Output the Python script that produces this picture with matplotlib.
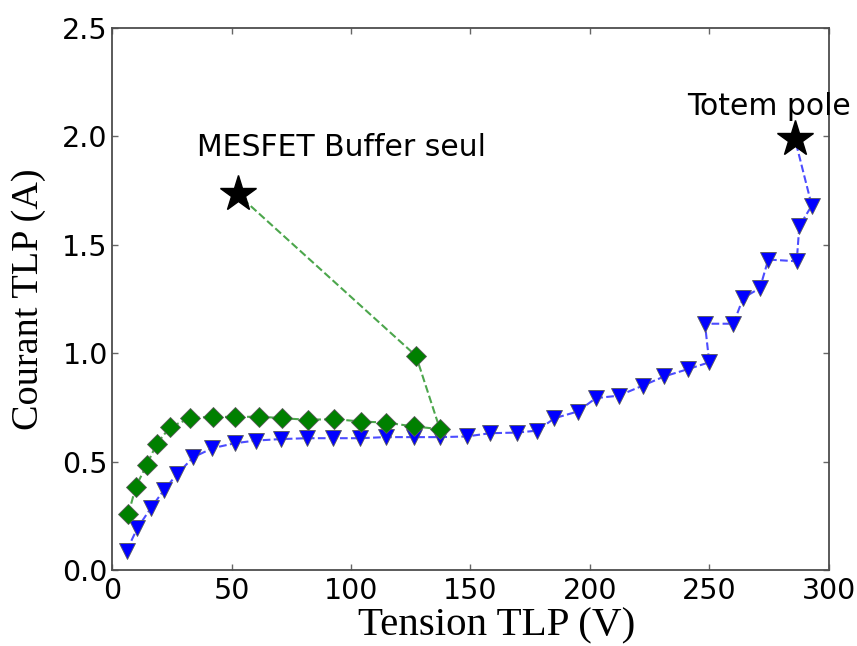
import matplotlib
matplotlib.use("Agg")
import matplotlib.pyplot as plt

# MESFET buffer alone (green diamonds), last point = failure (star)
mesfet_v = [6.8, 10.0, 14.5, 18.7, 24.3, 32.6, 42.4, 51.5, 61.5, 71.3,
            82.1, 93.0, 104.2, 114.5, 126.5, 137.2, 127.2]
mesfet_i = [0.257, 0.385, 0.485, 0.582, 0.659, 0.700, 0.708, 0.705, 0.708, 0.700,
            0.693, 0.696, 0.685, 0.680, 0.662, 0.650, 0.988]
mesfet_fail = (52.7, 1.732)

# Totem pole (blue triangles), last point = failure (star)
totem_v = [6.1, 10.6, 16.2, 21.8, 27.3, 34.0, 42.0, 51.5, 60.1, 70.7,
           81.7, 92.6, 103.8, 114.5, 126.5, 137.2, 148.4, 158.2, 169.6, 178.0,
           185.1, 194.8, 202.5, 212.0, 222.0, 231.1, 241.1, 249.9, 248.1, 260.0,
           264.1, 271.1, 274.6, 286.5, 287.6, 292.8]
totem_i = [0.089, 0.193, 0.285, 0.370, 0.443, 0.520, 0.562, 0.585, 0.597, 0.604,
           0.608, 0.608, 0.608, 0.613, 0.613, 0.613, 0.616, 0.631, 0.634, 0.643,
           0.700, 0.731, 0.793, 0.804, 0.850, 0.893, 0.927, 0.958, 1.136, 1.136,
           1.255, 1.300, 1.432, 1.424, 1.586, 1.681]
totem_fail = (285.8, 1.986)

fig = plt.figure(figsize=(8.57, 6.46), dpi=100)
ax = fig.add_axes([0.1307, 0.1176, 0.8366, 0.8391])

# dashed connecting lines (including failure point)
ax.plot(mesfet_v + [mesfet_fail[0]], mesfet_i + [mesfet_fail[1]],
        linestyle="--", color="green", alpha=0.7, linewidth=1.5, zorder=2)
ax.plot(totem_v + [totem_fail[0]], totem_i + [totem_fail[1]],
        linestyle="--", color="blue", alpha=0.7, linewidth=1.5, zorder=2)

# markers
ax.plot(totem_v, totem_i, linestyle="none", marker="v", markersize=12,
        color="blue", markeredgecolor="0.35", markeredgewidth=0.6, zorder=3)
ax.plot(mesfet_v, mesfet_i, linestyle="none", marker="D", markersize=10,
        color="green", markeredgecolor="0.35", markeredgewidth=0.6, zorder=4)
ax.plot(*mesfet_fail, marker="*", markersize=27, color="black", zorder=5)
ax.plot(*totem_fail, marker="*", markersize=27, color="black", zorder=5)

ax.text(35.6, 1.908, "MESFET Buffer seul", fontsize=21.5, family="DejaVu Sans")
ax.text(240.8, 2.10, "Totem pole", fontsize=21.5, family="DejaVu Sans")

ax.set_xlim(0, 300)
ax.set_ylim(0, 2.5)
ax.set_xticks([0, 50, 100, 150, 200, 250, 300])
ax.set_yticks([0.0, 0.5, 1.0, 1.5, 2.0, 2.5])
ax.set_yticklabels(["0.0", "0.5", "1.0", "1.5", "2.0", "2.5"])
ax.tick_params(direction="in", top=True, right=True, length=4, width=1,
               labelsize=20.5, color="0.4")
ax.tick_params(axis="x", pad=5)
ax.tick_params(axis="y", pad=3)
for sp in ax.spines.values():
    sp.set_color("0.3")
    sp.set_linewidth(1.3)

ax.set_xlabel("Tension TLP (V)", fontsize=29.5, family="Liberation Serif",
              labelpad=2, x=0.537)
ax.set_ylabel("Courant TLP (A)", fontsize=27.5, family="Liberation Serif", labelpad=12)

fig.savefig("out.png", dpi=100)
